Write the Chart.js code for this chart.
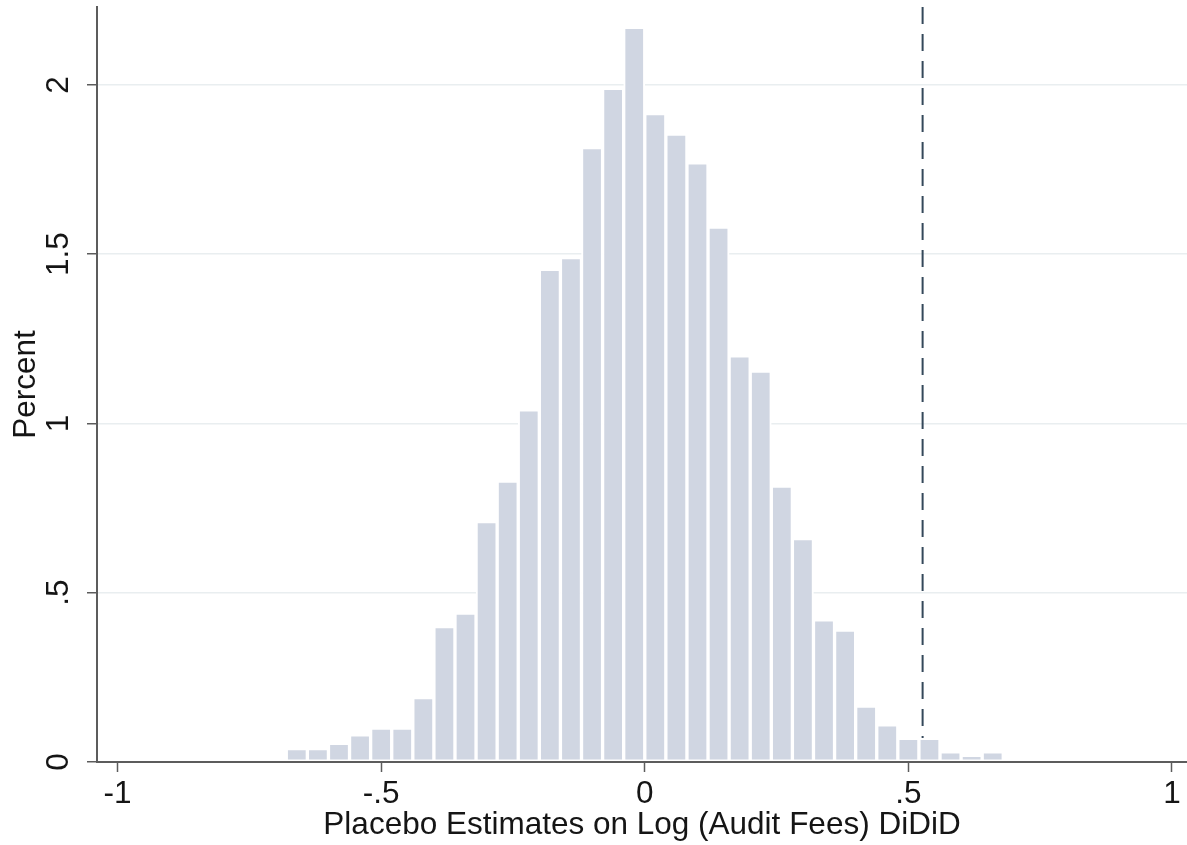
<!DOCTYPE html>
<html>
<head>
<meta charset="utf-8">
<script src="https://cdn.jsdelivr.net/npm/chart.js@4/dist/chart.umd.min.js"></script>
<style>
  html, body { margin: 0; padding: 0; background: #ffffff; }
  #wrap { width: 1187px; height: 845px; }
</style>
</head>
<body>
<div id="wrap"><canvas id="c" width="1187" height="845"></canvas></div>
<script>
// Centre of each 0.04-wide histogram bin of placebo estimates
const binCenters = [-0.66, -0.62, -0.58, -0.54, -0.50, -0.46, -0.42, -0.38, -0.34, -0.30,
                    -0.26, -0.22, -0.18, -0.14, -0.10, -0.06, -0.02, 0.02, 0.06, 0.10,
                    0.14, 0.18, 0.22, 0.26, 0.30, 0.34, 0.38, 0.42, 0.46, 0.50,
                    0.54, 0.58, 0.62, 0.66];
// Share of placebo estimates falling in each bin (percent)
const percents = [0.04, 0.04, 0.055, 0.08, 0.10, 0.10, 0.19, 0.40, 0.44, 0.71,
                  0.83, 1.04, 1.455, 1.49, 1.815, 1.99, 2.17, 1.915, 1.855, 1.77,
                  1.58, 1.20, 1.155, 0.815, 0.66, 0.42, 0.39, 0.165, 0.11, 0.07,
                  0.07, 0.03, 0.02, 0.03];
// Actual DiDiD estimate, marked by the dashed vertical line
const actualEstimate = 0.527;
// Axis tick values and ranges
const xTicks = [-1, -0.5, 0, 0.5, 1];
const yTicks = [0, 0.5, 1, 1.5, 2];
const xRange = [-1.039, 1.0285];
const yRange = [0, 2.23];

const xTitle = 'Placebo Estimates on Log (Audit Fees) DiDiD';
const yTitle = 'Percent';

// Stata-style number labels: drop the leading zero (".5", "-.5")
const stataLabel = v => String(v).replace(/^(-?)0\./, '$1.');

const FONT = 'Liberation Sans, Arial, Helvetica, sans-serif';
const AXIS_COLOR = '#5c5c5c';
const TEXT_COLOR = '#151515';

const histData = binCenters.map((x, i) => ({ x: x, y: percents[i] }));
const refLine = [{ x: actualEstimate, y: yRange[1] }, { x: actualEstimate, y: yRange[0] }];

// keep the plot area flush with the layout box (no extra room for edge labels)
const noEdgePadding = s => {
  s.paddingTop = 0; s.paddingBottom = 0; s.paddingLeft = 0; s.paddingRight = 0;
};

new Chart(document.getElementById('c'), {
  type: 'bar',
  data: {
    datasets: [
      {
        type: 'bar',
        data: histData,
        backgroundColor: 'rgb(208, 214, 226)',
        borderColor: '#ffffff',
        borderWidth: 2,
        borderSkipped: false,
        categoryPercentage: 1.0,
        barPercentage: 1.0,
        order: 0
      },
      {
        type: 'line',
        data: refLine,
        borderColor: '#34485a',
        borderWidth: 2,
        borderDash: [17, 10],
        pointRadius: 0,
        fill: false,
        order: 1
      }
    ]
  },
  options: {
    responsive: false,
    animation: false,
    devicePixelRatio: 1,
    layout: { padding: { top: 7, right: 0, bottom: 0, left: 0 } },
    plugins: {
      legend: { display: false },
      tooltip: { enabled: false },
      title: { display: false }
    },
    scales: {
      x: {
        type: 'linear',
        offset: false,
        min: xRange[0],
        max: xRange[1],
        afterBuildTicks: s => { s.ticks = xTicks.map(v => ({ value: v })); },
        afterFit: s => { s.height = 83; noEdgePadding(s); },
        grid: {
          offset: false,
          drawOnChartArea: false,
          drawTicks: true,
          tickLength: 10,
          tickColor: AXIS_COLOR,
          tickWidth: 1.5
        },
        border: { display: true, color: AXIS_COLOR, width: 2, z: 1 },
        ticks: {
          padding: 3,
          color: TEXT_COLOR,
          font: { family: FONT, size: 31.5 },
          maxRotation: 0,
          minRotation: 0,
          autoSkip: false,
          callback: v => stataLabel(v)
        },
        title: {
          display: true,
          text: xTitle,
          color: TEXT_COLOR,
          font: { family: FONT, size: 31.5 },
          padding: { top: 0, bottom: 1 }
        }
      },
      y: {
        type: 'linear',
        min: yRange[0],
        max: yRange[1],
        afterBuildTicks: s => { s.ticks = yTicks.map(v => ({ value: v })); },
        afterFit: s => { s.width = 97; noEdgePadding(s); },
        grid: {
          drawOnChartArea: true,
          color: '#e9eef0',
          lineWidth: 1.5,
          drawTicks: true,
          tickLength: 10,
          tickColor: AXIS_COLOR,
          tickWidth: 1.5
        },
        border: { display: true, color: AXIS_COLOR, width: 2, z: 1 },
        ticks: {
          padding: 6,
          color: TEXT_COLOR,
          font: { family: FONT, size: 31.5 },
          minRotation: 90,
          maxRotation: 90,
          crossAlign: 'center',
          autoSkip: false,
          callback: v => stataLabel(v)
        },
        title: {
          display: true,
          text: yTitle,
          color: TEXT_COLOR,
          font: { family: FONT, size: 31.5 },
          padding: { top: 7, bottom: 0 }
        }
      }
    }
  }
});
</script>
</body>
</html>
